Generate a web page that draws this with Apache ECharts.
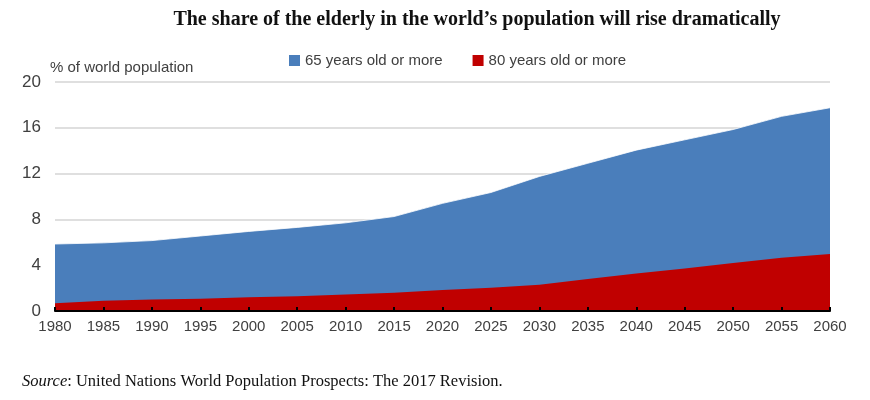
<!DOCTYPE html>
<html>
<head>
<meta charset="utf-8">
<script src="https://cdn.jsdelivr.net/npm/echarts@6/dist/echarts.min.js"></script>
<style>
html, body { margin: 0; padding: 0; background: #fff; }
#chart { width: 870px; height: 400px; }
</style>
</head>
<body>
<div id="chart"></div>
<script>
var years = ['1980', '1985', '1990', '1995', '2000', '2005', '2010', '2015', '2020',
             '2025', '2030', '2035', '2040', '2045', '2050', '2055', '2060'];
// % of world population
var over65 = [5.85, 5.95, 6.15, 6.55, 6.95, 7.3, 7.7, 8.25, 9.4,
              10.35, 11.75, 12.9, 14.05, 14.95, 15.85, 17.0, 17.75];
var over80 = [0.67, 0.9, 1.0, 1.08, 1.2, 1.28, 1.45, 1.6, 1.83,
              2.02, 2.3, 2.8, 3.28, 3.72, 4.2, 4.65, 4.97];
var yTicks = [0, 4, 8, 12, 16, 20];

var myChart = echarts.init(document.getElementById('chart'));
var labelFont = '"Liberation Sans Narrow", "Liberation Sans", Arial, sans-serif';

var option = {
    animation: false,
    title: {
        text: 'The share of the elderly in the world\u2019s population will rise dramatically',
        left: 472,
        textAlign: 'center',
        top: 5,
        textStyle: {
            fontFamily: '"Liberation Serif", "Times New Roman", serif',
            fontWeight: 'bold',
            fontSize: 20,
            color: '#111'
        }
    },
    legend: {
        left: 284,
        top: 48,
        itemWidth: 11,
        itemHeight: 11,
        itemGap: 30,
        icon: 'rect',
        textStyle: {
            fontFamily: labelFont,
            fontSize: 15,
            color: '#404040'
        },
        data: ['65 years old or more', '80 years old or more']
    },
    grid: {
        left: 55,
        right: 40,
        top: 82,
        bottom: 89
    },
    xAxis: {
        type: 'category',
        data: years,
        boundaryGap: false,
        axisLine: { lineStyle: { color: '#000', width: 2 } },
        axisTick: { alignWithLabel: true, inside: true, length: 4, lineStyle: { color: '#000', width: 2 } },
        axisLabel: {
            fontFamily: labelFont,
            fontSize: 15,
            color: '#404040',
            margin: 8,
            interval: 0
        },
        z: 10
    },
    yAxis: {
        type: 'value',
        min: yTicks[0],
        max: yTicks[yTicks.length - 1],
        interval: yTicks[1] - yTicks[0],
        name: '% of world population',
        nameLocation: 'end',
        nameGap: 7,
        nameTextStyle: {
            fontFamily: labelFont,
            fontSize: 15,
            color: '#404040',
            align: 'left',
            padding: [0, 0, 0, -5]
        },
        axisLine: { show: false },
        axisTick: { show: false },
        axisLabel: {
            fontFamily: labelFont,
            fontSize: 17,
            color: '#404040',
            margin: 14
        },
        splitLine: { lineStyle: { color: '#d4d4d4', width: 1.5 } }
    },
    series: [
        {
            name: '65 years old or more',
            type: 'line',
            data: over65,
            showSymbol: false,
            lineStyle: { width: 0.8, color: '#ffffff' },
            itemStyle: { color: '#4a7ebb' },
            areaStyle: { color: '#4a7ebb', opacity: 1 }
        },
        {
            name: '80 years old or more',
            type: 'line',
            data: over80,
            showSymbol: false,
            lineStyle: { width: 0 },
            itemStyle: { color: '#c00000' },
            areaStyle: { color: '#c00000', opacity: 1 }
        }
    ],
    graphic: [
        {
            type: 'text',
            left: 22,
            top: 373,
            style: {
                text: '{i|Source}: United Nations World Population Prospects: The 2017 Revision.',
                fontFamily: '"Liberation Serif", "Times New Roman", serif',
                fontSize: 16.5,
                fill: '#111',
                rich: {
                    i: {
                        fontFamily: '"Liberation Serif", "Times New Roman", serif',
                        fontStyle: 'italic',
                        fontSize: 16.5,
                        color: '#111'
                    }
                }
            }
        }
    ]
};

if (option && typeof option === "object") {
    myChart.setOption(option, true);
}
</script>
</body>
</html>
